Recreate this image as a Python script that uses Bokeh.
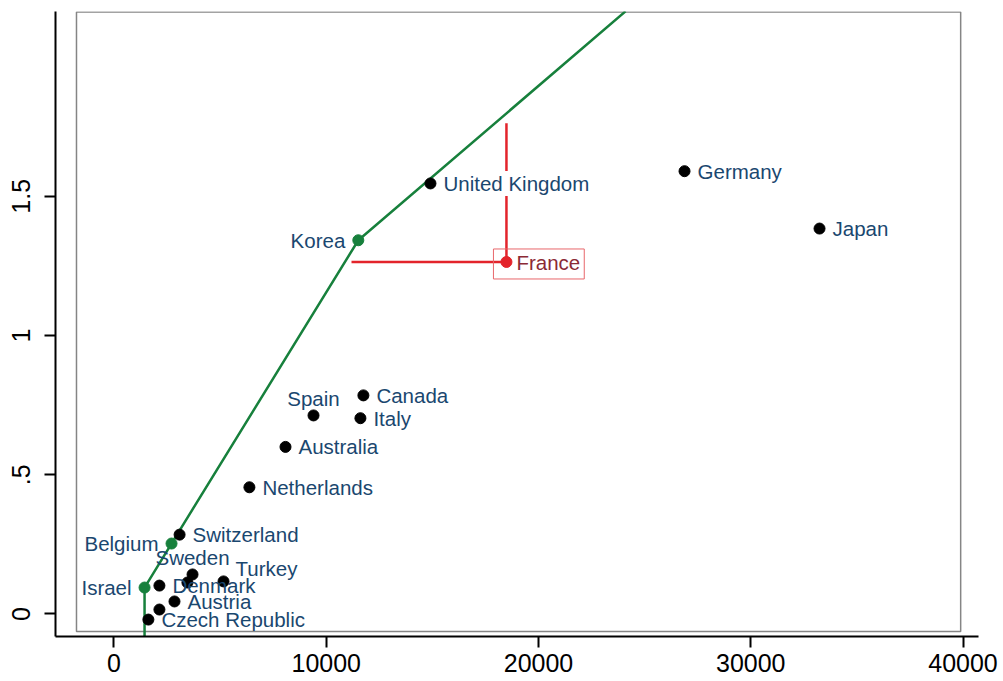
from bokeh.plotting import figure
from bokeh.models import ColumnDataSource, FixedTicker, BoxAnnotation, Range1d
from bokeh.core.properties import value
from bokeh.embed import file_html
from bokeh.resources import INLINE

# ---------------- data ----------------
countries = ["Germany", "Japan", "United Kingdom", "Korea", "France", "Canada",
             "Spain", "Italy", "Australia", "Netherlands", "Switzerland", "Belgium",
             "Sweden", "Turkey", "Denmark", "Israel", "Austria", "Czech Republic", "", ""]
cost = [26880, 33240, 14910, 11510, 18490, 11750,
        9400, 11610, 8080, 6380, 3090, 2710,
        3700, 5160, 2140, 1440, 2850, 1620, 3460, 2140]
score = [1.590, 1.384, 1.546, 1.342, 1.264, 0.785,
         0.713, 0.703, 0.600, 0.455, 0.285, 0.253,
         0.142, 0.117, 0.102, 0.095, 0.045, -0.020, 0.113, 0.016]
# clock position of each label (Stata style)
label_pos = [3, 3, 3, 9, 3, 3, 12, 3, 3, 3, 3, 9, 12, 2, 3, 9, 3, 3, 3, 3]
frontier_members = ["Israel", "Belgium", "Korea"]
target = "France"

# efficient frontier
frontier_x = [1440, 1440, 2710, 11510, 24100]
frontier_y = [-0.2, 0.095, 0.253, 1.342, 2.164]
# projections of France onto the frontier
proj_x = [11190]      # horizontal projection end
proj_y = [1.762]      # vertical projection end

x_ticks = [0, 10000, 20000, 30000, 40000]
y_ticks = [0, 0.5, 1, 1.5]
y_tick_labels = ["0", ".5", "1", "1.5"]

# ranges / plot region
x_start, x_end = -2756, 40730
y_start, y_end = -0.0808, 2.1634
region = dict(left=-1767, right=39890, bottom=-0.0628, top=2.1616)

FONT = "Liberation Sans"
LABEL_COL = "#1a476f"
GREEN = "#17803c"
RED = "#e3242b"

p = figure(width=1003, height=681,
           x_range=Range1d(x_start, x_end), y_range=Range1d(y_start, y_end),
           output_backend="svg", toolbar_location=None,
           min_border_left=55, min_border_right=25, min_border_top=11, min_border_bottom=45)
p.outline_line_color = None
p.xgrid.visible = False
p.ygrid.visible = False
p.background_fill_color = "white"
p.border_fill_color = "white"

# plot region box
p.add_layout(BoxAnnotation(left=region["left"], right=region["right"],
                           bottom=region["bottom"], top=region["top"],
                           fill_alpha=0, line_alpha=1.0, line_color="#858585",
                           line_width=1.5, level="underlay"))

# axes
for ax in (p.xaxis[0], p.yaxis[0]):
    ax.axis_line_width = 2
    ax.axis_line_color = "black"
    ax.major_tick_line_width = 2
    ax.major_tick_line_color = "black"
    ax.major_tick_out = 11
    ax.major_tick_in = 0
    ax.minor_tick_line_color = None
    ax.major_label_text_font = FONT
    ax.major_label_text_font_size = "25px"
    ax.major_label_text_color = "black"

p.xaxis.ticker = FixedTicker(ticks=x_ticks)
p.xaxis.major_label_overrides = {t: str(t) for t in x_ticks}
p.xaxis.major_label_standoff = 6
p.yaxis.ticker = FixedTicker(ticks=y_ticks)
p.yaxis.major_label_overrides = {t: l for t, l in zip(y_ticks, y_tick_labels)}
p.yaxis.major_label_orientation = "vertical"
p.yaxis.major_label_standoff = 14

# frontier line
p.line(frontier_x, frontier_y, line_color=GREEN, line_width=2.5)

# projection lines for the target
ti = countries.index(target)
p.line([proj_x[0], cost[ti]], [score[ti], score[ti]], line_color=RED, line_width=2.5)
p.line([cost[ti], cost[ti]], [score[ti], proj_y[0]], line_color=RED, line_width=2.5)

# points
colors = []
for c in countries:
    if c == target:
        colors.append(RED)
    elif c in frontier_members:
        colors.append(GREEN)
    else:
        colors.append("black")
src = ColumnDataSource(dict(x=cost, y=score, name=countries, color=colors))
p.scatter("x", "y", source=src, size=11, fill_color="color", line_color="color")

# labels
offs = {3: (12, 0, "left"), 9: (-12, 0, "right"), 12: (0, -17, "center"), 2: (11, -13, "left")}
lx, ly, lt, ldx, ldy, lal, lbg = [], [], [], [], [], [], []
for c, x, y, pos in zip(countries, cost, score, label_pos):
    if not c or c == target:
        continue
    dx, dy, al = offs[pos]
    lx.append(x); ly.append(y); lt.append(c)
    ldx.append(dx); ldy.append(dy); lal.append(al)
    lbg.append(1.0 if c == "United Kingdom" else 0.0)
lsrc = ColumnDataSource(dict(x=lx, y=ly, text=lt, dx=ldx, dy=ldy, align=lal, bga=lbg))
p.text("x", "y", text="text", source=lsrc, x_offset="dx", y_offset="dy",
       text_align="align", text_baseline="middle",
       text_font=value(FONT), text_font_size="20.5px", text_color=LABEL_COL,
       background_fill_color="white", background_fill_alpha="bga", padding=1)

# target label with its box
p.text([cost[ti]], [score[ti]], text=[target], x_offset=-13, y_offset=2,
       text_align="left", text_baseline="middle",
       text_font=value(FONT), text_font_size="20.5px", text_color="#8b2a35",
       border_line_color="#e8676b", border_line_width=1,
       padding=dict(left=23, right=4, top=2, bottom=5))

open("out.html", "w").write(file_html(p, INLINE))
